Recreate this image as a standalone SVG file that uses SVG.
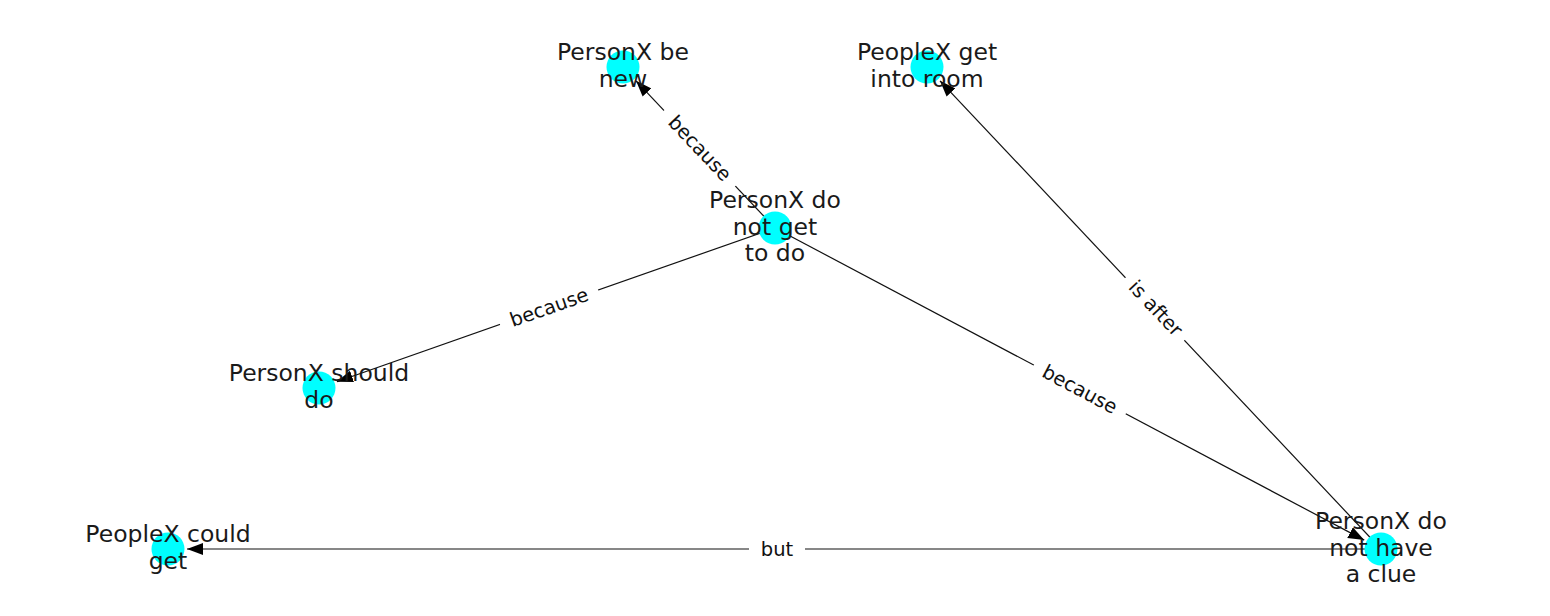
<svg xmlns="http://www.w3.org/2000/svg" width="1550" height="616" viewBox="0 0 1550 616">
<style>
.edge{stroke:#111;stroke-width:1.2;fill:none}
.node{fill:#00ffff}
.nl{font-family:"DejaVu Sans",sans-serif;font-size:23.5px;fill:#1a1a1a;text-anchor:middle}
.el{font-family:"DejaVu Sans",sans-serif;font-size:19.5px;fill:#111;text-anchor:middle}
.bg{fill:#fff}
</style>
<defs>
<marker id="arr" markerUnits="userSpaceOnUse" markerWidth="17" markerHeight="13" refX="16" refY="6.5" orient="auto" viewBox="0 0 17 13">
<path d="M0,0.5 L16,6.5 L0,12.5 z" fill="#000"/>
</marker>
</defs>
<rect width="1550" height="616" fill="#fff"/>
<g id="edges">
<line class="edge" x1="775" y1="228" x2="636" y2="80.8" marker-end="url(#arr)"/>
<line class="edge" x1="775" y1="228" x2="336.9" y2="381.7" marker-end="url(#arr)"/>
<line class="edge" x1="775" y1="228" x2="1364.2" y2="540.1" marker-end="url(#arr)"/>
<line class="edge" x1="1381" y1="549" x2="940" y2="80.8" marker-end="url(#arr)"/>
<line class="edge" x1="1381" y1="549" x2="187" y2="549" marker-end="url(#arr)"/>
</g>
<g id="node-be-new"><circle class="node" cx="623" cy="67" r="16.5"/></g>
<g id="node-get-into-room"><circle class="node" cx="927" cy="67" r="16.5"/></g>
<g id="node-not-get-to-do"><circle class="node" cx="775" cy="228" r="16.5"/></g>
<g id="node-should-do"><circle class="node" cx="319" cy="388" r="16.5"/></g>
<g id="node-could-get"><circle class="node" cx="168" cy="549" r="16.5"/></g>
<g id="node-no-clue"><circle class="node" cx="1381" cy="549" r="16.5"/></g>
<g id="node-labels">
<text class="nl"><tspan x="623" y="60">PersonX be</tspan><tspan x="623" y="86.5">new</tspan></text>
<text class="nl"><tspan x="927" y="60">PeopleX get</tspan><tspan x="927" y="86.5">into room</tspan></text>
<text class="nl"><tspan x="775" y="208">PersonX do</tspan><tspan x="775" y="234.5">not get</tspan><tspan x="775" y="261">to do</tspan></text>
<text class="nl"><tspan x="319" y="381">PersonX should</tspan><tspan x="319" y="407.5">do</tspan></text>
<text class="nl"><tspan x="168" y="542">PeopleX could</tspan><tspan x="168" y="568.5">get</tspan></text>
<text class="nl"><tspan x="1381" y="529">PersonX do</tspan><tspan x="1381" y="555.5">not have</tspan><tspan x="1381" y="582">a clue</tspan></text>
</g>
<g id="edge-labels">
<g transform="translate(700,148) rotate(46.6)"><rect class="bg" x="-52" y="-13" width="104" height="26" rx="5"/><text class="el" x="0" y="7">because</text></g>
<g transform="translate(549,307) rotate(-19.3)"><rect class="bg" x="-52" y="-13" width="104" height="26" rx="5"/><text class="el" x="0" y="7">because</text></g>
<g transform="translate(1080,389) rotate(27.9)"><rect class="bg" x="-52" y="-13" width="104" height="26" rx="5"/><text class="el" x="0" y="7">because</text></g>
<g transform="translate(1156,308) rotate(46.7)"><rect class="bg" x="-43" y="-13" width="86" height="26" rx="5"/><text class="el" x="0" y="7">is after</text></g>
<g transform="translate(777,549)"><rect class="bg" x="-28" y="-13" width="56" height="26" rx="5"/><text class="el" x="0" y="7">but</text></g>
</g>
</svg>
